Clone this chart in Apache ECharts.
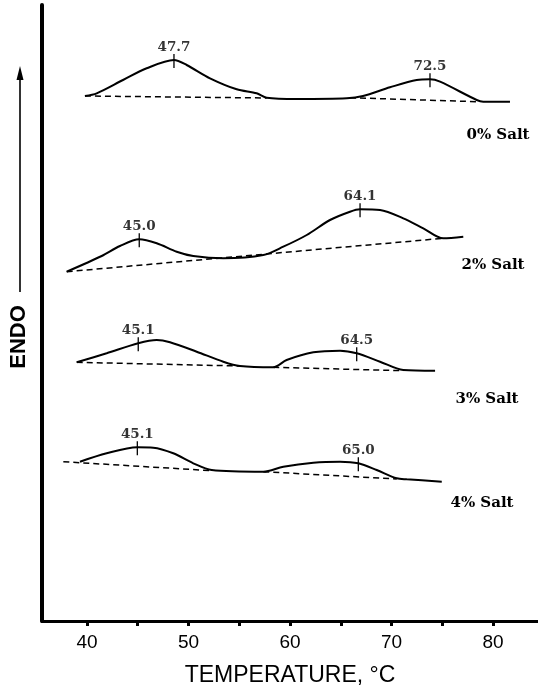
<!DOCTYPE html>
<html>
<head>
<meta charset="utf-8">
<style>
html,body{margin:0;padding:0;background:#fff;}
#chart{width:538px;height:697px;}
</style>
<script src="https://cdn.jsdelivr.net/npm/echarts@6/dist/echarts.min.js"></script>
</head>
<body>
<div id="chart"></div>
<script>
// ---- Data (temperature in °C, heat flow in arbitrary units) ----
const xTickValues = [40, 45, 50, 55, 60, 65, 70, 75, 80];
const xLabelValues = [40, 50, 60, 70, 80];

// 0% salt
const t0 = [39.80, 40.96, 43.55, 45.88, 48.57, 49.82, 52.12, 54.75, 56.72, 57.70, 60.66, 65.59, 67.19, 69.85, 72.48, 73.79, 74.78, 78.39, 79.04, 81.67];
const h0 = [52.50, 52.77, 54.10, 55.27, 56.10, 55.60, 54.27, 53.17, 52.77, 52.33, 52.20, 52.27, 52.50, 53.37, 54.10, 54.17, 53.93, 52.10, 51.93, 51.93];
const base0T = [39.80, 57.70, null, 65.91, 78.39];
const base0H = [52.50, 52.30, null, 52.33, 51.93];
const peak0T = [48.57, 73.79];
const peak0H = [56.10, 54.17];
const peak0Label = ['47.7', '72.5'];

// 2% salt
const t2 = [38.00, 41.45, 43.25, 45.15, 46.87, 48.84, 50.47, 53.43, 57.37, 59.34, 61.65, 63.94, 65.91, 66.90, 68.87, 71.16, 73.13, 75.10, 77.07];
const h2 = [34.93, 36.50, 37.50, 38.17, 37.77, 36.93, 36.50, 36.27, 36.60, 37.43, 38.60, 40.10, 40.93, 41.17, 41.10, 40.27, 39.27, 38.27, 38.43];
const base2T = [38.00, 75.10];
const base2H = [34.93, 38.27];
const peak2T = [45.15, 66.90];
const peak2H = [38.17, 41.17];
const peak2Label = ['45.0', '64.1'];

// 3% salt
const t3 = [38.99, 41.94, 45.05, 46.87, 48.18, 50.81, 53.43, 55.07, 58.35, 59.67, 62.30, 64.93, 66.57, 68.87, 71.16, 74.29];
const h3 = [25.87, 26.77, 27.77, 28.10, 27.87, 26.93, 25.93, 25.50, 25.37, 26.10, 26.87, 27.03, 26.77, 25.93, 25.10, 25.03];
const base3T = [38.99, 55.07, null, 58.35, 71.16];
const base3H = [25.87, 25.50, null, 25.37, 25.03];
const peak3T = [45.05, 66.57];
const peak3H = [27.77, 26.77];
const peak3Label = ['45.1', '64.5'];

// 4% salt
const t4 = [39.31, 41.94, 44.96, 46.53, 48.50, 50.47, 52.29, 57.37, 59.34, 62.30, 64.93, 66.73, 68.54, 70.51, 71.50, 74.95];
const h4 = [15.93, 16.77, 17.37, 17.33, 16.77, 15.77, 15.10, 14.93, 15.43, 15.83, 15.93, 15.77, 15.10, 14.27, 14.17, 13.93];
const base4T = [37.67, 52.29, null, 57.37, 70.51];
const base4H = [15.93, 15.03, null, 14.93, 14.20];
const peak4T = [44.96, 66.73];
const peak4H = [17.37, 15.77];
const peak4Label = ['45.1', '65.0'];

const saltLabels = ['0% Salt', '2% Salt', '3% Salt', '4% Salt'];

// ---- Build series ----
const curves = [
  {t: t0, h: h0, bt: base0T, bh: base0H, pt: peak0T, ph: peak0H, pl: peak0Label},
  {t: t2, h: h2, bt: base2T, bh: base2H, pt: peak2T, ph: peak2H, pl: peak2Label},
  {t: t3, h: h3, bt: base3T, bh: base3H, pt: peak3T, ph: peak3H, pl: peak3Label},
  {t: t4, h: h4, bt: base4T, bh: base4H, pt: peak4T, ph: peak4H, pl: peak4Label}
];
const zip = (a, b) => a.map((v, i) => (v === null ? null : [v, b[i]]));

const MARK_UP = 0.6, MARK_DOWN = 0.8;
const labelFont = 'DejaVu Serif';
const series = [];
curves.forEach((c, k) => {
  series.push({
    type: 'line', data: zip(c.t, c.h), smooth: 0.3, symbol: 'none',
    lineStyle: {color: '#000', width: 2}, z: 3, silent: true
  });
  series.push({
    type: 'line', data: zip(c.bt, c.bh), symbol: 'none', connectNulls: false,
    lineStyle: {color: '#000', width: 1.5, type: [6, 4]}, z: 2, silent: true
  });
  const marks = [];
  c.pt.forEach((t, i) => {
    marks.push([t, c.ph[i] + MARK_UP], [t, c.ph[i] - MARK_DOWN], null);
  });
  series.push({
    type: 'line', data: marks, symbol: 'none', connectNulls: false,
    lineStyle: {color: '#000', width: 1.3}, z: 3, silent: true
  });
  series.push({
    type: 'scatter', symbolSize: 0, silent: true,
    data: c.pt.map((t, i) => ({value: [t, c.ph[i]], name: c.pl[i]})),
    label: {
      show: true, position: 'top', distance: 6,
      formatter: p => p.name,
      color: '#000', fontFamily: labelFont, fontWeight: 'bold', fontSize: 13.5
    }
  });
});

const chart = echarts.init(document.getElementById('chart'), null, {renderer: 'canvas'});
const saltPos = [[498, 135], [493, 265], [487, 399], [482, 503]];
chart.setOption({
  animation: false,
  backgroundColor: '#fff',
  grid: {left: 42, right: 0, top: 5, bottom: 76},
  xAxis: {
    type: 'value', min: 35.57, max: 84.43,
    axisLine: {show: true, lineStyle: {color: '#000', width: 3}},
    axisTick: {show: true, inside: false, length: 5, customValues: xTickValues, lineStyle: {color: '#000', width: 3}},
    axisLabel: {show: true, customValues: xLabelValues, margin: 12, color: '#000', fontSize: 19, fontFamily: 'Liberation Sans'},
    splitLine: {show: false},
    name: 'TEMPERATURE, °C', nameLocation: 'middle', nameGap: 43,
    nameTextStyle: {color: '#000', fontSize: 23, fontFamily: 'Liberation Sans'}
  },
  yAxis: {
    type: 'value', min: 0, max: 61.6,
    axisLine: {show: true, lineStyle: {color: '#000', width: 4}},
    axisTick: {show: false}, axisLabel: {show: false}, splitLine: {show: false}
  },
  series: series,
  graphic: [
    {type: 'text', x: 19, y: 337, rotation: Math.PI / 2,
     style: {text: 'ENDO', fill: '#000', font: 'bold 22px "Liberation Sans"', align: 'center', verticalAlign: 'middle'}},
    {type: 'line', shape: {x1: 20, y1: 292, x2: 20, y2: 78}, style: {stroke: '#000', lineWidth: 1.6}},
    {type: 'polygon', shape: {points: [[20, 66], [16.5, 80], [23.5, 80]]}, style: {fill: '#000'}}
  ].concat(saltLabels.map((s, i) => ({
    type: 'text', x: saltPos[i][0], y: saltPos[i][1],
    style: {text: s, fill: '#000', font: 'bold 15px "DejaVu Serif"', align: 'center', verticalAlign: 'middle'}
  })))
});
</script>
</body>
</html>
